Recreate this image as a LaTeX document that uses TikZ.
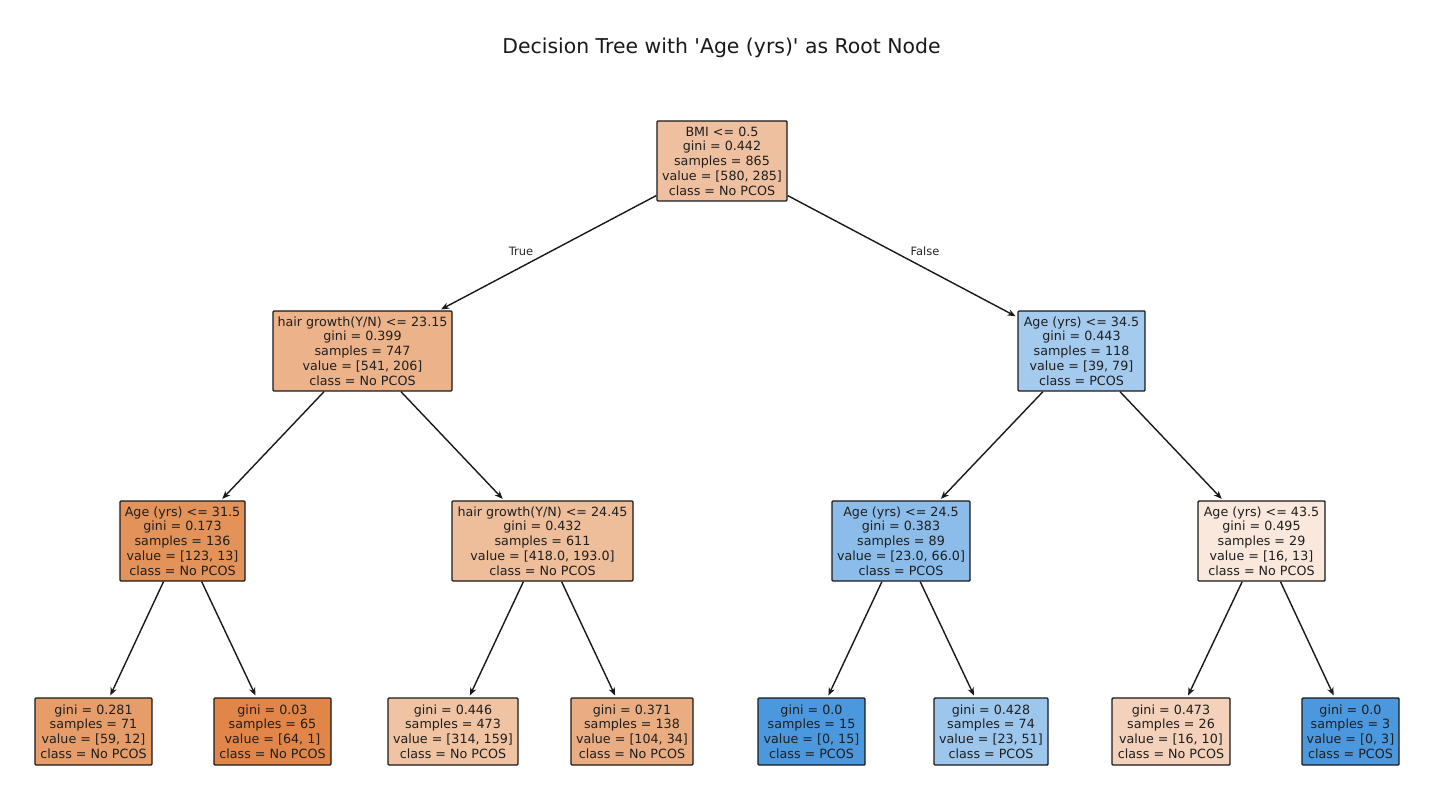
\documentclass[tikz,border=0pt]{standalone}
\usepackage{fontspec}
\setmainfont{DejaVu Sans}
\usetikzlibrary{arrows.meta}
\definecolor{cOr}{RGB}{224,132,68}
\definecolor{cBl}{RGB}{76,152,222}
\definecolor{edgegray}{RGB}{25,25,25}
\tikzset{
  tnode/.style={draw=black!90, line width=1.4pt, rounded corners=1pt, inner sep=0pt,
    minimum height=80pt, align=center, text=black!88,
    font=\fontsize{12.7}{14.75}\selectfont},
  leaf/.style={tnode, minimum height=67pt},
  conn/.style={draw=edgegray, line width=1.4pt, -{Stealth[length=8pt,width=6.5pt]}, shorten >=2pt},
  elabel/.style={font=\fontsize{11.5}{13}\selectfont, text=black!85}
}
\begin{document}
\begin{tikzpicture}[x=1pt,y=-1pt]
\useasboundingbox (0,0) rectangle (1436,810);
\node[font=\fontsize{20.4}{24}\selectfont, text=black!90] (title) at (721.5,48) {Decision Tree with \textquotesingle Age (yrs)\textquotesingle{} as Root Node};

\node[tnode, minimum width=130pt, fill=cOr!51!white] (root) at (722,161)
  {BMI <= 0.5\\gini = 0.442\\samples = 865\\value = [580, 285]\\class = No PCOS};
\node[tnode, minimum width=179pt, fill=cOr!62!white] (l) at (362.5,351)
  {hair growth(Y/N) <= 23.15\\gini = 0.399\\samples = 747\\value = [541, 206]\\class = No PCOS};
\node[tnode, minimum width=127pt, fill=cBl!51!white] (r) at (1081.5,351)
  {Age (yrs) <= 34.5\\gini = 0.443\\samples = 118\\value = [39, 79]\\class = PCOS};

\node[tnode, minimum width=125pt, fill=cOr!89!white] (ll) at (182.5,541)
  {Age (yrs) <= 31.5\\gini = 0.173\\samples = 136\\value = [123, 13]\\class = No PCOS};
\node[tnode, minimum width=181pt, fill=cOr!54!white] (lr) at (542.5,541)
  {hair growth(Y/N) <= 24.45\\gini = 0.432\\samples = 611\\value = [418.0, 193.0]\\class = No PCOS};
\node[tnode, minimum width=138pt, fill=cBl!65!white] (rl) at (901,541)
  {Age (yrs) <= 24.5\\gini = 0.383\\samples = 89\\value = [23.0, 66.0]\\class = PCOS};
\node[tnode, minimum width=127pt, fill=cOr!19!white] (rr) at (1261.5,541)
  {Age (yrs) <= 43.5\\gini = 0.495\\samples = 29\\value = [16, 13]\\class = No PCOS};

\node[leaf, minimum width=117pt, fill=cOr!80!white] (lll) at (93.5,731.5)
  {gini = 0.281\\samples = 71\\value = [59, 12]\\class = No PCOS};
\node[leaf, minimum width=117pt, fill=cOr!98!white] (llr) at (272.5,731.5)
  {gini = 0.03\\samples = 65\\value = [64, 1]\\class = No PCOS};
\node[leaf, minimum width=130pt, fill=cOr!49!white] (lrl) at (453,731.5)
  {gini = 0.446\\samples = 473\\value = [314, 159]\\class = No PCOS};
\node[leaf, minimum width=122pt, fill=cOr!67!white] (lrr) at (632,731.5)
  {gini = 0.371\\samples = 138\\value = [104, 34]\\class = No PCOS};
\node[leaf, minimum width=107pt, fill=cBl] (rll) at (811.5,731.5)
  {gini = 0.0\\samples = 15\\value = [0, 15]\\class = PCOS};
\node[leaf, minimum width=114pt, fill=cBl!55!white] (rlr) at (991,731.5)
  {gini = 0.428\\samples = 74\\value = [23, 51]\\class = PCOS};
\node[leaf, minimum width=118pt, fill=cOr!37!white] (rrl) at (1171,731.5)
  {gini = 0.473\\samples = 26\\value = [16, 10]\\class = No PCOS};
\node[leaf, minimum width=97pt, fill=cBl] (rrr) at (1350.5,731.5)
  {gini = 0.0\\samples = 3\\value = [0, 3]\\class = PCOS};

\draw[conn] (root) -- (l);
\draw[conn] (root) -- (r);
\draw[conn] (l) -- (ll);
\draw[conn] (l) -- (lr);
\draw[conn] (r) -- (rl);
\draw[conn] (r) -- (rr);
\draw[conn] (ll) -- (lll);
\draw[conn] (ll) -- (llr);
\draw[conn] (lr) -- (lrl);
\draw[conn] (lr) -- (lrr);
\draw[conn] (rl) -- (rll);
\draw[conn] (rl) -- (rlr);
\draw[conn] (rr) -- (rrl);
\draw[conn] (rr) -- (rrr);

\node[elabel] (tl) at (521,251) {True};
\node[elabel] (fl) at (925,251) {False};
\end{tikzpicture}
\end{document}
